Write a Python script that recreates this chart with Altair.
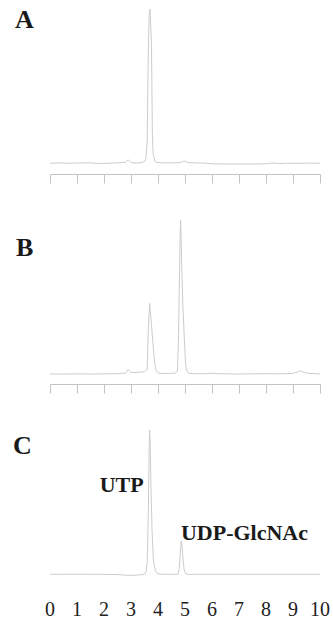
import altair as alt
import pandas as pd

# Retention time (min) and normalised detector response
a_time = [0.0, 0.3, 0.6, 1.0, 1.4, 1.8, 2.2, 2.6, 2.8, 2.9, 3.0, 3.2, 3.4, 3.5, 3.55, 3.6, 3.64, 3.67, 3.7,
          3.73, 3.76, 3.79, 3.82, 3.88, 3.95, 4.1, 4.4, 4.8, 4.95, 5.0, 5.1, 5.4, 5.8, 6.0, 6.5, 7.0, 7.5,
          8.0, 8.3, 8.5, 8.8, 9.2, 9.5, 10.0]
a_signal = [0.0, 0.002, 0.0, 0.001, 0.003, -0.002, 0.0, 0.003, 0.006, 0.022, 0.004, 0.001, 0.004, 0.012,
            0.03, 0.15, 0.7, 0.95, 1.0, 0.9, 0.75, 0.2, 0.06, 0.015, 0.006, 0.003, 0.002, 0.004, 0.012,
            0.014, 0.005, 0.002, 0.0, -0.004, -0.005, -0.005, -0.005, -0.004, 0.002, -0.003, 0.0, -0.001,
            0.001, 0.0]

b_time = [0.0, 0.5, 1.0, 1.5, 2.0, 2.5, 2.8, 2.9, 2.95, 3.0, 3.2, 3.4, 3.5, 3.55, 3.6, 3.64, 3.69, 3.72,
          3.76, 3.79, 3.85, 3.91, 3.97, 4.05, 4.2, 4.5, 4.65, 4.72, 4.76, 4.79, 4.82, 4.84, 4.88, 4.92,
          4.97, 5.02, 5.08, 5.15, 5.4, 5.8, 6.0, 6.2, 7.0, 8.0, 8.5, 9.0, 9.28, 9.5, 10.0]
b_signal = [0.0, 0.0, 0.001, 0.0, 0.001, 0.002, 0.006, 0.03, 0.018, 0.01, 0.01, 0.013, 0.016, 0.02, 0.03,
            0.28, 0.46, 0.4, 0.32, 0.25, 0.12, 0.03, 0.012, 0.005, 0.004, 0.004, 0.006, 0.02, 0.25, 0.6,
            0.9, 1.0, 0.7, 0.45, 0.25, 0.06, 0.015, 0.004, 0.002, 0.002, 0.006, 0.002, 0.0, 0.002, 0.001,
            0.004, 0.02, 0.006, 0.0]

c_time = [0.0, 0.5, 1.0, 1.5, 2.0, 2.5, 2.8, 3.0, 3.3, 3.5, 3.56, 3.6, 3.64, 3.67, 3.69, 3.71, 3.74, 3.78,
          3.83, 3.9, 3.97, 4.1, 4.4, 4.65, 4.74, 4.79, 4.83, 4.86, 4.89, 4.93, 4.97, 5.02, 5.1, 5.5, 6.0,
          7.0, 8.0, 9.0, 10.0]
c_signal = [0.0, 0.0, 0.001, 0.0, 0.0, -0.002, -0.006, -0.007, -0.004, 0.0, 0.02, 0.08, 0.4, 0.85, 1.0,
            0.9, 0.6, 0.3, 0.1, 0.03, 0.005, 0.001, 0.0, 0.0, 0.0, 0.04, 0.16, 0.23, 0.2, 0.1, 0.03, 0.005,
            0.0, 0.0, 0.0, 0.0, 0.0, 0.0, 0.0]

panel_labels = ["A", "B", "C"]
peak_names = ["UTP", "UDP-GlcNAc"]
peak_label_time = [1.84, 4.85]
peak_label_signal = [0.57, 0.237]
tick_values = list(range(0, 11))

LINE = "#cccccc"
AXIS = "#c4c4c4"
SERIF = "Liberation Serif"
W = 270
X_SCALE = alt.Scale(domain=[0, 10], nice=False, zero=False)


def panel(times, signal, label, height, y_domain, lab_x, lab_y, show_labels, extra=None):
    df = pd.DataFrame({"time": times, "signal": signal})
    axis = alt.Axis(values=tick_values, title=None, labels=False)
    y_scale = alt.Scale(domain=y_domain, nice=False, zero=False)
    y = alt.Y("signal:Q", scale=y_scale, axis=None)
    line = alt.Chart(df).mark_line(color=LINE, strokeWidth=1).encode(
        x=alt.X("time:Q", scale=X_SCALE, axis=axis), y=y)
    letter = alt.Chart(pd.DataFrame({"label": [label]})).mark_text(
        font=SERIF, fontWeight="bold", fontSize=26, color="#1a1a1a",
        align="left", baseline="alphabetic").encode(
        x=alt.value(lab_x), y=alt.value(lab_y), text="label:N")
    layers = [line, letter]
    if extra is not None:
        ann = alt.Chart(extra).mark_text(
            font=SERIF, fontWeight="bold", fontSize=22, color="#1a1a1a",
            align="left", baseline="alphabetic").encode(
            x=alt.X("time:Q", scale=X_SCALE, axis=None),
            y=alt.Y("signal:Q", scale=y_scale, axis=None),
            text="name:N")
        layers.append(ann)
    if show_labels:
        tick_df = pd.DataFrame({"tick": tick_values, "text": [str(v) for v in tick_values]})
        tick_text = alt.Chart(tick_df).mark_text(
            font=SERIF, fontSize=20, color="#222222",
            align="center", baseline="alphabetic").encode(
            x=alt.X("tick:Q", scale=X_SCALE, axis=None),
            y=alt.value(height + 31),
            text="text:N")
        layers.append(tick_text)
    return alt.layer(*layers).properties(width=W, height=height)


ann_df = pd.DataFrame({"name": peak_names, "time": peak_label_time, "signal": peak_label_signal})

pa = panel(a_time, a_signal, panel_labels[0], 165, [-0.07, 1.0], -35, 19, False)
pb = panel(b_time, b_signal, panel_labels[1], 165, [-0.065, 1.01], -34, 37, False)
pc = panel(c_time, c_signal, panel_labels[2], 155, [-0.074, 1.0], -37, 24, True, ann_df)

chart = alt.vconcat(pa, pb, pc, spacing=34).properties(
    padding={"left": 13, "top": 7, "right": 0, "bottom": 0},
    background="white",
).configure_view(stroke=None).configure_axisX(
    grid=False, domain=True, domainColor=AXIS, domainWidth=1,
    ticks=True, tickColor=AXIS, tickSize=9, tickWidth=1,
)

chart.save("out.html", embed_options={"renderer": "svg", "actions": False})
